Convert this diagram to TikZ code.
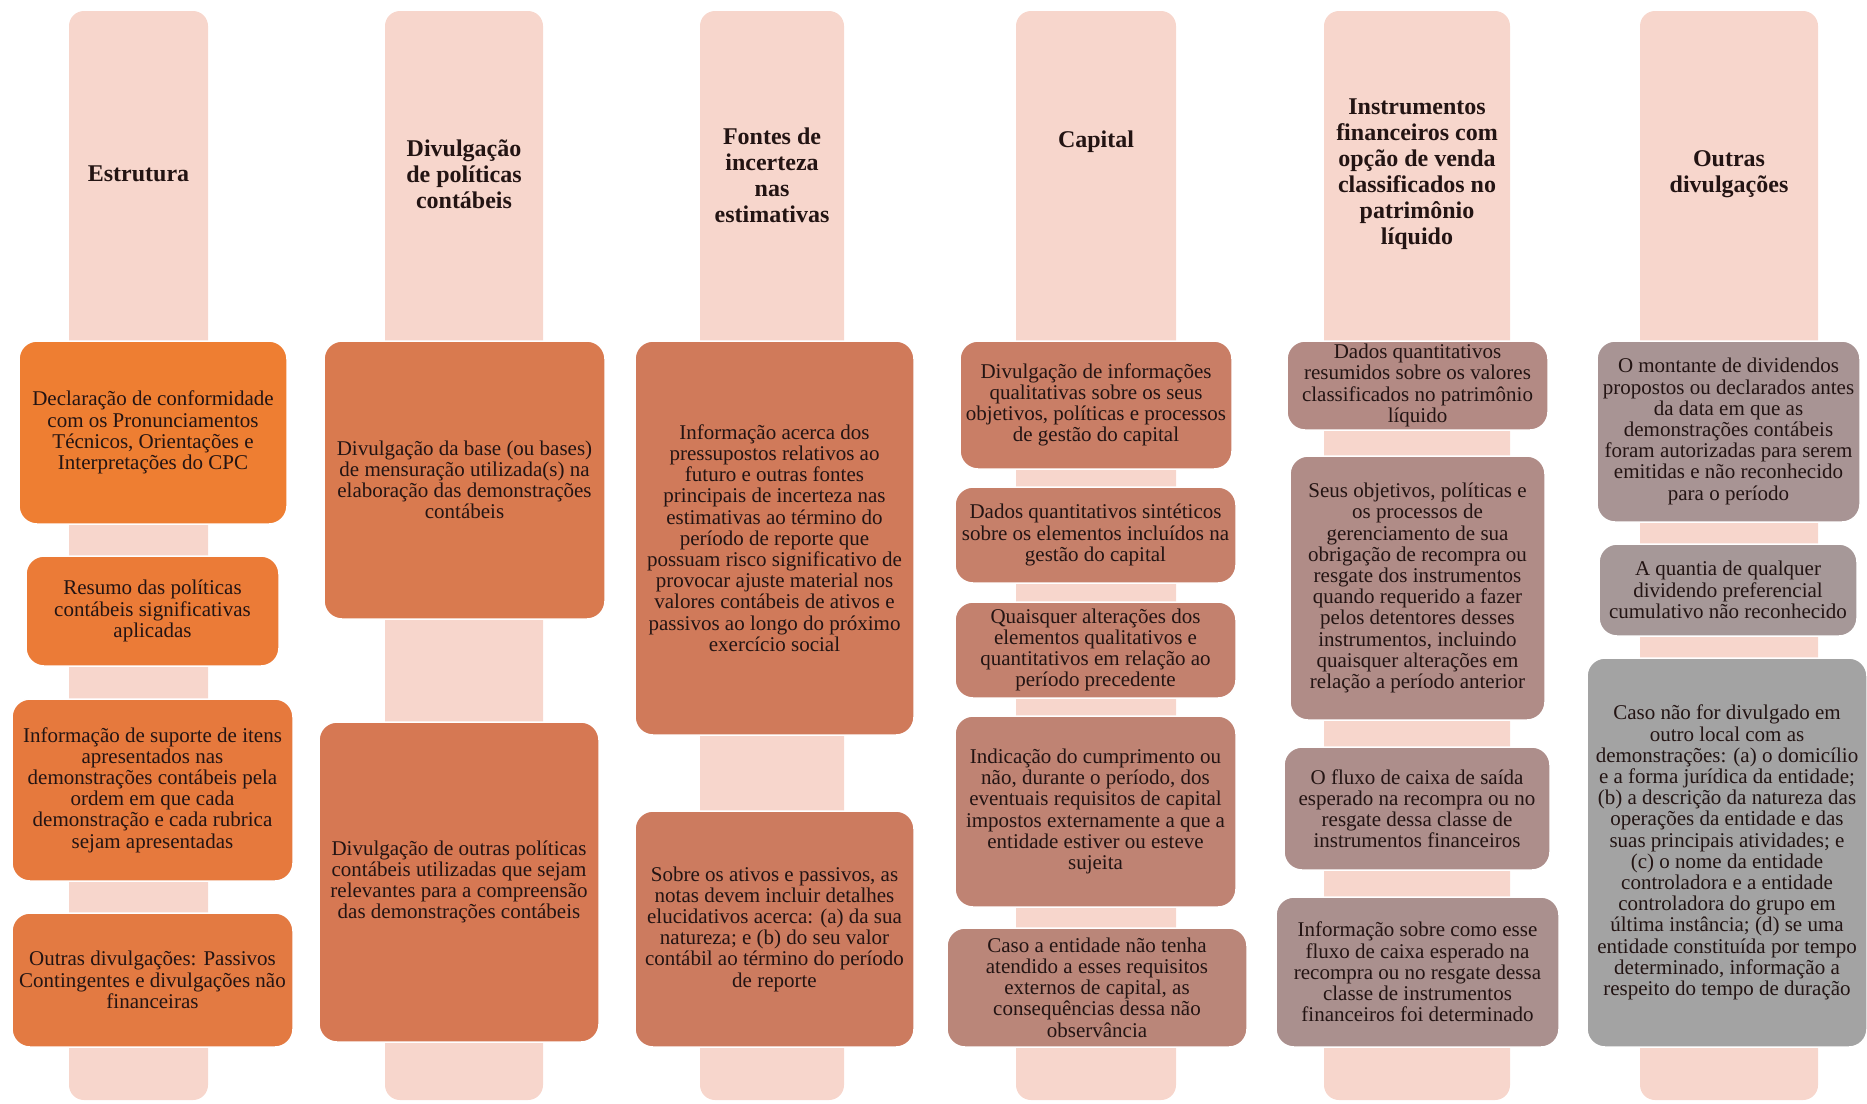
\documentclass[tikz,border=0pt]{standalone}
\usepackage{fontspec}
\setmainfont{Liberation Serif}
\usepackage{tikz}
\definecolor{bar}{HTML}{F7D6CC}
\definecolor{txt}{HTML}{231413}
\definecolor{cA1}{HTML}{EE7E32}
\definecolor{cA2}{HTML}{EB7B37}
\definecolor{cA3}{HTML}{E6793D}
\definecolor{cA4}{HTML}{E37A42}
\definecolor{cB1}{HTML}{D97A4F}
\definecolor{cB2}{HTML}{D67853}
\definecolor{cC1}{HTML}{D07A5A}
\definecolor{cC2}{HTML}{CC7B5F}
\definecolor{cD1}{HTML}{C97E66}
\definecolor{cD2}{HTML}{C6806A}
\definecolor{cD3}{HTML}{C3816E}
\definecolor{cD4}{HTML}{BF8373}
\definecolor{cD5}{HTML}{BA8679}
\definecolor{cE1}{HTML}{B38A84}
\definecolor{cE2}{HTML}{B08C87}
\definecolor{cE3}{HTML}{AD8E8B}
\definecolor{cE4}{HTML}{AA908E}
\definecolor{cF1}{HTML}{A89494}
\definecolor{cF2}{HTML}{A69898}
\definecolor{cF3}{HTML}{A3A3A3}

\begin{document}
\begin{tikzpicture}
[x=1pt,y=-1pt,%
  every node/.style={align=center,text=txt},%
  box/.style={rounded corners=18pt,draw=white,line width=1.5pt,inner sep=2pt,font=\fontsize{21}{21.2}\selectfont},%
  sz/.style 2 args={minimum width=#1pt,minimum height=#2pt},%
  head/.style={font=\fontsize{24}{26}\selectfont\bfseries}]
\useasboundingbox (0,0) rectangle (1867,1103);
\foreach \x/\w in {138.5/139,464/158,772/144,1096/160,1417/186,1729/178}
  \fill[bar,rounded corners=15pt] ({\x-\w/2},11) rectangle ({\x+\w/2},1100);
\node[head] (hEst) at (138.5,174) {Estrutura};
\node[head] (hPol) at (464,174) {Divulgação\\de políticas\\contábeis};
\node[head] (hInc) at (772,175) {Fontes de\\incerteza\\nas\\estimativas};
\node[head] (hCap) at (1096,142) {Capital};
\node[head] (hIns) at (1417,174) {Instrumentos\\financeiros com\\opção de venda\\classificados no\\patrimônio\\líquido};
\node[head] (hOut) at (1729,174) {Outras\\divulgações};
\node[box,fill=cA1,sz={268}{183}] (est1) at (153,432.5)
  {Declaração de conformidade\\com os Pronunciamentos\\Técnicos, Orientações e\\Interpretações do CPC};
\node[box,fill=cA2,sz={253}{110}] (est2) at (152.5,611)
  {Resumo das políticas\\contábeis significativas\\aplicadas};
\node[box,fill=cA3,sz={281}{182}] (est3) at (152.5,790)
  {Informação de suporte de itens\\apresentados nas\\demonstrações contábeis pela\\ordem em que cada\\demonstração e cada rubrica\\sejam apresentadas};
\node[box,fill=cA4,sz={281}{134}] (est4) at (152.5,980)
  {Outras divulgações: Passivos\\Contingentes e divulgações não\\financeiras};
\node[box,fill=cB1,sz={281}{278}] (pol1) at (464.5,480)
  {Divulgação da base (ou bases)\\de mensuração utilizada(s) na\\elaboração das demonstrações\\contábeis};
\node[box,fill=cB2,sz={280}{320}] (pol2) at (459,882)
  {Divulgação de outras políticas\\contábeis utilizadas que sejam\\relevantes para a compreensão\\das demonstrações contábeis};
\node[box,fill=cC1,sz={279}{394}] (inc1) at (774.5,538)
  {Informação acerca dos\\pressupostos relativos ao\\futuro e outras fontes\\principais de incerteza nas\\estimativas ao término do\\período de reporte que\\possuam risco significativo de\\provocar ajuste material nos\\valores contábeis de ativos e\\passivos ao longo do próximo\\exercício social};
\node[box,fill=cC2,sz={279}{236}] (inc2) at (774.5,929)
  {Sobre os ativos e passivos, as\\notas devem incluir detalhes\\elucidativos acerca: (a) da sua\\natureza; e (b) do seu valor\\contábil ao término do período\\de reporte};
\node[box,fill=cD1,sz={272}{128}] (cap1) at (1096,405)
  {Divulgação de informações\\qualitativas sobre os seus\\objetivos, políticas e processos\\de gestão do capital};
\node[box,fill=cD2,sz={281}{96}] (cap2) at (1095.5,535)
  {Dados quantitativos sintéticos\\sobre os elementos incluídos na\\gestão do capital};
\node[box,fill=cD3,sz={281}{96}] (cap3) at (1095.5,650)
  {Quaisquer alterações dos\\elementos qualitativos e\\quantitativos em relação ao\\período precedente};
\node[box,fill=cD4,sz={281}{191}] (cap4) at (1095.5,811.5)
  {Indicação do cumprimento ou\\não, durante o período, dos\\eventuais requisitos de capital\\impostos externamente a que a\\entidade estiver ou esteve\\sujeita};
\node[box,fill=cD5,sz={300}{119}] (cap5) at (1097,987.5)
  {Caso a entidade não tenha\\atendido a esses requisitos\\externos de capital, as\\consequências dessa não\\observância};
\node[box,fill=cE1,sz={261}{89}] (ins1) at (1417.5,385.5)
  {Dados quantitativos\\resumidos sobre os valores\\classificados no patrimônio\\líquido};
\node[box,fill=cE2,sz={255}{264}] (ins2) at (1417.5,588)
  {Seus objetivos, políticas e\\os processos de\\gerenciamento de sua\\obrigação de recompra ou\\resgate dos instrumentos\\quando requerido a fazer\\pelos detentores desses\\instrumentos, incluindo\\quaisquer alterações em\\relação a período anterior};
\node[box,fill=cE3,sz={266}{123}] (ins3) at (1417,808.5)
  {O fluxo de caixa de saída\\esperado na recompra ou no\\resgate dessa classe de\\instrumentos financeiros};
\node[box,fill=cE4,sz={283}{150}] (ins4) at (1417.5,972)
  {Informação sobre como esse\\fluxo de caixa esperado na\\recompra ou no resgate dessa\\classe de instrumentos\\financeiros foi determinado};
\node[box,fill=cF1,sz={263}{181}] (out1) at (1728.5,431.5)
  {O montante de dividendos\\propostos ou declarados antes\\da data em que as\\demonstrações contábeis\\foram autorizadas para serem\\emitidas e não reconhecido\\para o período};
\node[box,fill=cF2,sz={258}{92}] (out2) at (1728,590)
  {A quantia de qualquer\\dividendo preferencial\\cumulativo não reconhecido};
\node[box,fill=cF3,sz={280}{389}] (out3) at (1727,852.5)
  {Caso não for divulgado em\\outro local com as\\demonstrações: (a) o domicílio\\e a forma jurídica da entidade;\\(b) a descrição da natureza das\\operações da entidade e das\\suas principais atividades; e\\(c) o nome da entidade\\controladora e a entidade\\controladora do grupo em\\última instância; (d) se uma\\entidade constituída por tempo\\determinado, informação a\\respeito do tempo de duração};
\end{tikzpicture}
\end{document}
